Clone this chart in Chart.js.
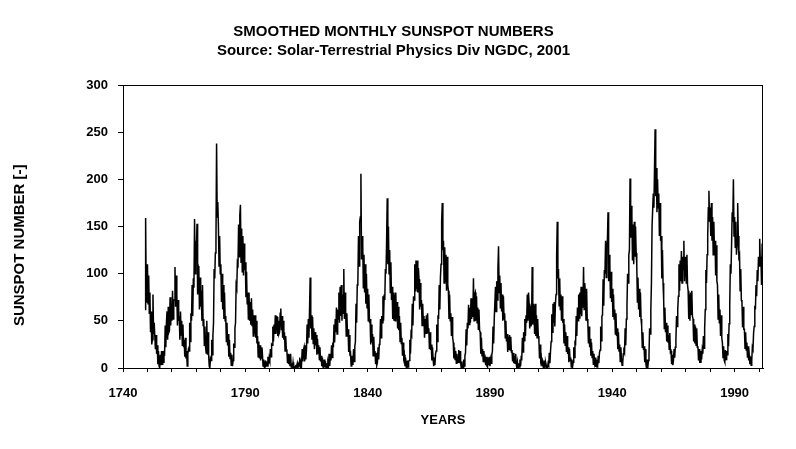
<!DOCTYPE html>
<html>
<head>
<meta charset="utf-8">
<script src="https://cdn.jsdelivr.net/npm/chart.js@4.4.1/dist/chart.umd.min.js"></script>
<style>
  html, body { margin: 0; padding: 0; background: #fff; }
</style>
</head>
<body>
<canvas id="sunspotChart" width="796" height="449"></canvas>
<script>
// sunspot numbers, 4 values per year (quarters)
var ssn1749 = [
  62,159,70,98, 110,68,98,58, 80,38,60,25, 30,78,36,48, 48,20,35,15,
  24,4,18,2, 0,14,3,18, 4,18,6,16, 15,45,22,48, 60,30,65,38,
  40,75,45,68, 50,82,52,72, 72,107,65,98, 78,45,72,50, 55,30,60,35,
  50,24,46,22, 30,12,32,10, 18,2,15,20, 18,48,28,58, 50,88,55,95,
  85,158,100,135, 125,153,78,108, 105,62,96,65, 82,50,88,45, 52,24,44,22,
  16,50,14,38, 14,2,0,10, 8,30,14,34, 48,105,95,122, 135,238,160,176,
  150,108,140,100, 110,70,100,62, 88,52,80,50, 55,28,48,24, 36,12,30,10,
  16,3,14,2, 8,26,22,42, 48,88,85,112, 110,152,118,162, 173,112,148,102,
  140,98,132,104, 112,75,102,68, 80,52,80,50, 70,46,74,45, 62,34,56,36,
  56,32,50,26, 34,12,28,10, 24,8,22,10, 14,2,9,1, 0,8,2,7,
  2,12,4,11
];
var ssn1800 = [
  8,20,12,25, 24,44,28,46, 36,56,36,54, 54,34,50,36, 38,58,63,40,
  55,32,50,30, 38,18,34,20, 18,5,15,4, 14,2,15,1, 5,0,6,0,
  0,0,2,0, 0,5,0,4, 2,11,0,9, 5,20,7,19, 22,7,24,9,
  20,46,26,52, 32,62,96,42, 56,30,54,26, 42,20,38,24, 35,14,31,16,
  24,9,22,7, 13,2,11,1, 0,9,1,7, 0,5,0,6, 3,15,2,13,
  8,24,11,27, 22,46,27,52, 38,64,36,62, 52,80,48,86, 55,88,50,78,
  58,105,52,80, 62,34,58,36, 41,17,35,15, 16,2,13,4, 5,20,7,23,
  28,68,48,88, 90,140,108,155, 160,206,115,140, 130,85,120,80, 110,68,100,64,
  84,50,78,48, 52,25,46,27, 36,13,33,15, 18,4,16,3, 6,22,9,25,
  26,52,32,55, 48,76,50,78, 72,105,100,135, 180,110,150,100, 125,80,112,72
];
var ssn1850 = [
  86,52,80,50, 78,50,80,52, 70,42,65,40, 55,28,48,26, 32,13,27,11,
  14,2,11,1, 0,8,1,7, 8,30,15,37, 35,68,45,76, 72,110,82,114,
  84,114,80,106, 94,62,90,65, 72,45,68,48, 55,32,52,36, 56,36,58,38,
  42,20,38,19, 25,8,22,10, 2,11,3,15, 18,46,28,56, 52,88,62,96,
  110,155,175,125, 135,90,128,92, 120,82,118,88, 82,52,78,50, 58,34,54,32,
  27,10,22,9, 18,5,15,7, 6,19,5,18, 6,0,7,0, 0,9,2,13,
  16,41,24,48, 42,67,46,64, 48,74,52,70, 54,95,50,78, 80,50,76,48,
  64,41,62,40, 38,15,32,13, 20,7,18,9, 11,3,12,2, 1,11,3,12,
  2,9,5,14, 18,44,26,52, 52,86,60,92, 72,105,129,80, 98,64,90,60,
  78,50,76,52, 58,32,50,28, 36,17,33,19, 35,19,33,17, 19,7,16,5
];
var ssn1900 = [
  13,5,15,4, 0,6,0,5, 1,9,2,11, 10,32,17,38, 29,52,34,56,
  48,78,50,80, 68,42,66,44, 48,107,46,68, 62,36,68,34, 56,32,52,34,
  30,10,25,8, 11,2,9,1, 0,8,1,6, 3,0,0,5, 3,16,5,18,
  28,57,38,68, 48,70,44,68, 78,118,155,95, 105,66,95,62, 78,50,76,48,
  52,26,46,24, 38,17,34,15, 22,6,20,8, 11,1,9,1, 6,22,11,27,
  26,55,34,64, 50,78,53,80, 57,86,55,80, 64,107,62,90, 78,50,84,52,
  48,26,44,22, 31,13,27,11, 18,4,15,6, 11,1,9,1, 2,13,5,16,
  19,44,29,55, 56,94,66,104, 100,135,96,130, 135,165,92,120, 110,74,102,70,
  84,54,78,52, 62,36,58,34, 42,20,38,18, 25,7,22,9, 3,5,15,18,
  16,42,24,52, 66,100,90,120, 125,201,138,172, 162,114,152,110, 155,118,150,122
];
var ssn1950 = [
  110,70,96,62, 84,54,80,52, 45,22,38,19, 23,6,20,4, 0,9,0,8,
  14,42,36,62, 90,150,150,185, 170,210,253,182, 212,165,200,170, 185,140,175,135,
  140,95,125,90, 72,42,64,38, 48,28,45,27, 35,20,37,17, 18,4,14,3,
  8,20,11,22, 29,55,44,62, 76,110,82,114, 92,124,90,118, 104,135,92,116,
  118,90,120,88, 82,52,78,50, 80,57,82,55, 52,28,46,26, 44,24,42,22,
  23,8,20,6, 6,18,9,19, 15,34,21,42, 62,104,90,120, 140,170,188,155,
  170,140,175,135, 160,120,155,125, 135,98,130,92, 88,52,78,48, 62,34,56,32,
  27,11,23,8, 6,19,9,18, 14,36,23,47, 66,110,100,130, 165,155,200,140,
  160,128,155,120, 130,175,140,118, 120,82,105,72, 70,43,65,41, 41,21,38,19,
  27,11,23,8, 13,4,12,3, 8,22,20,37, 44,66,62,88, 76,104,92,118,
  108,137,112,118, 88,132,112
];
var blockStarts = [1749, 1800, 1850, 1900, 1950];
var labelYears = [1740, 1790, 1840, 1890, 1940, 1990];
var yTicks = [0, 50, 100, 150, 200, 250, 300];

var points = [];
[ssn1749, ssn1800, ssn1850, ssn1900, ssn1950].forEach(function(vals, b) {
    vals.forEach(function(v, i) {
        points.push({ x: blockStarts[b] + i / 4, y: v });
    });
});

var fontFam = '"Liberation Sans", Arial, sans-serif';

var framePlugin = {
    id: 'frame',
    afterDatasetsDraw: function(chart) {
        var a = chart.chartArea, c = chart.ctx;
        c.save();
        c.strokeStyle = '#000';
        c.lineWidth = 1;
        c.strokeRect(Math.round(a.left) + 0.5, Math.round(a.top) + 0.5,
            Math.round(a.right - a.left) - 1, Math.round(a.bottom - a.top));
        c.restore();
    }
};

document.addEventListener("DOMContentLoaded", function() {
    var ctx = document.getElementById('sunspotChart').getContext('2d');
    var sunspotChart = new Chart(ctx, {
        type: 'line',
        data: {
            datasets: [{
                label: 'Sunspot number',
                data: points,
                borderColor: '#000',
                borderWidth: 1.5,
                pointRadius: 0,
                tension: 0,
                fill: false
            }]
        },
        options: {
            responsive: false,
            animation: false,
            layout: { padding: { left: 0, right: 9, top: 0, bottom: 0 } },
            plugins: {
                legend: { display: false },
                tooltip: { enabled: false },
                title: {
                    display: true,
                    text: ['SMOOTHED MONTHLY SUNSPOT NUMBERS', 'Source: Solar-Terrestrial Physics Div NGDC, 2001'],
                    color: '#000',
                    font: { family: fontFam, size: 15, weight: 'bold', lineHeight: 1.3 },
                    padding: { top: 22, bottom: 24 }
                }
            },
            scales: {
                x: {
                    type: 'linear',
                    min: 1740,
                    max: 2001.6,
                    afterFit: function(s) { s.height = 81; },
                    afterBuildTicks: function(s) {
                        var t = [];
                        for (var v = 1740; v <= 2000; v += 10) t.push({ value: v });
                        s.ticks = t;
                    },
                    ticks: {
                        autoSkip: false,
                        maxRotation: 0,
                        padding: 14,
                        color: '#000',
                        font: { family: fontFam, size: 13, weight: 'bold' },
                        callback: function(v) { return labelYears.indexOf(v) >= 0 ? String(v) : ''; }
                    },
                    grid: { drawOnChartArea: false, drawTicks: true, tickLength: 4, color: '#000' },
                    border: { color: '#000', width: 1 },
                    title: {
                        display: true,
                        text: 'YEARS',
                        color: '#000',
                        font: { family: fontFam, size: 13, weight: 'bold' },
                        padding: { top: 0, bottom: 21 }
                    }
                },
                y: {
                    min: 0,
                    max: 300,
                    afterFit: function(s) { s.width = 123; },
                    afterBuildTicks: function(s) {
                        s.ticks = yTicks.map(function(v) { return { value: v }; });
                    },
                    ticks: {
                        padding: 10,
                        color: '#000',
                        font: { family: fontFam, size: 13, weight: 'bold' }
                    },
                    grid: { drawOnChartArea: false, drawTicks: true, tickLength: 5, color: '#000' },
                    border: { color: '#000', width: 1 },
                    title: {
                        display: true,
                        // trailing spaces move the rotated label down to where it sits in the original
                        text: 'SUNSPOT NUMBER [-]         ',
                        color: '#000',
                        font: { family: fontFam, size: 15, weight: 'bold' },
                        padding: { top: 11, bottom: 0 }
                    }
                },
                // empty right-hand scale: keeps the plot's right margin while the title stays centred on the page
                yRight: {
                    position: 'right',
                    min: 0,
                    max: 300,
                    afterFit: function(s) { s.width = 24; },
                    ticks: { display: false },
                    grid: { display: false },
                    border: { display: false }
                }
            }
        },
        plugins: [framePlugin]
    });
});
</script>
</body>
</html>
